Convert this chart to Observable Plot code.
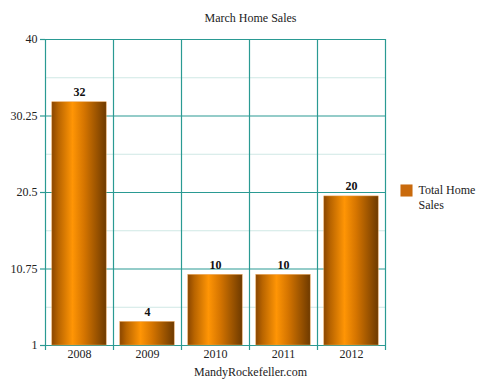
<!DOCTYPE html>
<html>
<head>
<meta charset="utf-8">
<script src="https://cdn.jsdelivr.net/npm/d3@7"></script>
<script src="https://cdn.jsdelivr.net/npm/@observablehq/plot@0.6"></script>
<style>
  html, body { margin: 0; padding: 0; background: #fff; }
  svg { display: block; }
  svg, svg text { font-family: "Liberation Serif", "Times New Roman", serif !important; }
</style>
</head>
<body>
<div id="chart"></div>
<script>
const years = ["2008", "2009", "2010", "2011", "2012"];
const sales = [32, 4, 10, 10, 20];
const yTicks = [1, 10.75, 20.5, 30.25, 40];
const yMinor = [5.875, 15.625, 25.375, 35.125];
const title = "March Home Sales";
const caption = "MandyRockefeller.com";
const seriesName = "Total Home Sales";

const data = years.map((y, i) => ({year: y, i, value: sales[i]}));
const teal = "#2a9a93";
const font = "Liberation Serif, serif";

function gradientDefs() {
  const ns = "http://www.w3.org/2000/svg";
  const defs = document.createElementNS(ns, "defs");
  const g = document.createElementNS(ns, "linearGradient");
  g.setAttribute("id", "barGrad");
  g.setAttribute("x1", "0"); g.setAttribute("x2", "1");
  g.setAttribute("y1", "0"); g.setAttribute("y2", "0");
  [[0, "#8a4600"], [0.12, "#b86400"], [0.38, "#ff9505"], [0.6, "#d47400"], [1, "#6e3a00"]].forEach(([o, c]) => {
    const s = document.createElementNS(ns, "stop");
    s.setAttribute("offset", o);
    s.setAttribute("stop-color", c);
    g.appendChild(s);
  });
  defs.appendChild(g);
  return defs;
}

const fs = 12;
const chart = Plot.plot({
  width: 500,
  height: 385,
  marginLeft: 45,
  marginRight: 115,
  marginTop: 39,
  marginBottom: 40,
  style: {fontFamily: font, fontSize: "12px", color: "#222", background: "#fff"},
  x: {type: "linear", domain: [0, years.length], axis: null},
  y: {type: "linear", domain: [1, 40], axis: null, label: null},
  marks: [
    gradientDefs,
    Plot.ruleY(yMinor, {stroke: "#cfe8e5", strokeWidth: 1}),
    Plot.ruleY(yTicks, {stroke: teal, strokeWidth: 1.2}),
    Plot.rectY(data, {x1: d => d.i + 0.1, x2: d => d.i + 0.9, y1: 1, y2: d => d.value, fill: "url(#barGrad)", stroke: "#e9a050", strokeWidth: 0.5}),
    Plot.ruleX(d3.range(years.length + 1), {stroke: teal, strokeWidth: 1.2, insetBottom: -5}),
    Plot.axisY(yTicks, {tickSize: 5, stroke: teal, strokeWidth: 1.2, tickPadding: 3, tickFormat: d => String(d), fontSize: fs, fill: "#222", label: null}),
    Plot.text(data, {x: d => d.i + 0.5, y: 1, text: "year", dy: 9, fontSize: fs, fill: "#222"}),
    Plot.text(data, {x: d => d.i + 0.5, y: d => d.value, text: d => String(d.value), dy: -10, fontWeight: "bold", fontSize: fs, fill: "#111"}),
    Plot.text([title], {frameAnchor: "top", dx: 35, dy: -26, fontSize: fs, fill: "#222"}),
    Plot.text([caption], {frameAnchor: "bottom", dx: 35, dy: 30, fontSize: fs, fill: "#222"}),
    Plot.dot([seriesName], {frameAnchor: "right", dx: 21, dy: -2, symbol: "square", r: 6.8, fill: "#c96a0c", stroke: "none"}),
    Plot.text([seriesName.replace("Home ", "Home\n")], {frameAnchor: "right", dx: 33, dy: -8, textAnchor: "start", lineAnchor: "top", lineHeight: 1.17, fontSize: fs, fill: "#222"})
  ]
});
document.getElementById("chart").appendChild(chart);
</script>
</body>
</html>
